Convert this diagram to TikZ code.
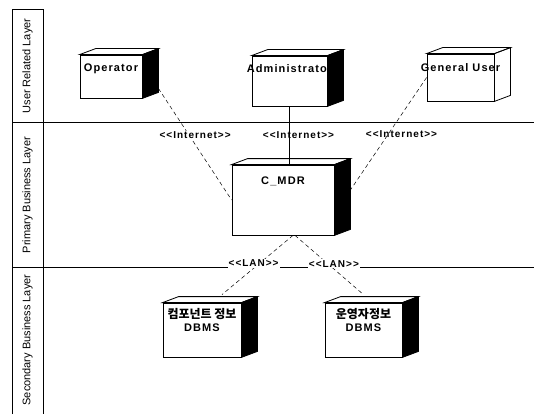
\documentclass[tikz,border=0pt]{standalone}
\usepackage{fontspec}
\setmainfont{Liberation Sans}
\newfontfamily\tagfont[LetterSpace=10]{Liberation Sans}
\newfontfamily\korfont{Noto Sans CJK KR}
\usetikzlibrary{positioning}
\tikzset{
    layerline/.style={line width=0.8pt},
    layertext/.style={rotate=90,font=\fontsize{11}{12}\selectfont,inner sep=0pt},
    device/.style={draw,line width=0.8pt,fill=white,inner sep=0pt},
    devtext/.style={anchor=north,inner sep=0pt,align=center,
        font=\tagfont\bfseries\fontsize{11}{13}\selectfont},
    cubeline/.style={line width=0.8pt},
    link/.style={line width=0.5pt,dash pattern=on 4pt off 3pt},
    stereo/.style={inner sep=1pt,font=\tagfont\bfseries\fontsize{10}{11}\selectfont}
}
% top and side faces of a device box
\newcommand{\devcube}[2]{
    \draw[cubeline,fill=white] (#1.north west) -- ++(16pt,6pt)
        -- ([shift={(16pt,6pt)}]#1.north east) -- (#1.north east) -- cycle;
    \draw[cubeline,#2] (#1.north east) -- ++(16pt,6pt)
        -- ([shift={(16pt,6pt)}]#1.south east) -- (#1.south east) -- cycle;
}
\begin{document}
\begin{tikzpicture}[x=1pt,y=-1pt]
    \useasboundingbox (0,0) rectangle (534,414);
    % layers
    \draw[layerline] (12,414) -- (12,9) -- (43,9) -- (43,414);
    \draw[layerline] (12,122) -- (534,122);
    \draw[layerline] (12,267) -- (534,267);
    \node[layertext] (ulayer) at (27.5,66) {User Related Layer};
    \node[layertext] (player) at (27.5,195) {Primary Business Layer};
    \node[layertext] (slayer) at (27.5,340) {Secondary Business Layer};
    % devices
    \node[device,minimum width=62pt,minimum height=43pt,
        label={[devtext,yshift=-9pt]north:Operator}] (oper) at (111,76.5) {};
    \devcube{oper}{fill=black}
    \node[device,minimum width=75pt,minimum height=50pt,
        label={[devtext,yshift=-9pt]north:Administrator}] (admin) at (289.5,81) {};
    \devcube{admin}{fill=black}
    \node[device,minimum width=67pt,minimum height=47pt,
        label={[devtext,yshift=-10pt]north:General User}] (genuser) at (460.5,77.5) {};
    \devcube{genuser}{}
    \draw[cubeline] (genuser.north east) -- (genuser.south east);
    \node[device,minimum width=102pt,minimum height=70pt,
        label={[devtext,yshift=-12pt]north:C\_MDR}] (cmdr) at (283,200) {};
    \devcube{cmdr}{fill=black}
    \node[device,minimum width=78pt,minimum height=54pt,
        label={[devtext,yshift=-6pt]north:{\korfont\bfseries\fontsize{12}{16}\selectfont 컴포넌트 정보}\\DBMS}] (compdb) at (202,330) {};
    \devcube{compdb}{fill=black}
    \node[device,minimum width=77pt,minimum height=54pt,
        label={[devtext,yshift=-6pt]north:{\korfont\bfseries\fontsize{12}{16}\selectfont 운영자정보}\\DBMS}] (operdb) at (363.5,330) {};
    \devcube{operdb}{fill=black}
    % connections
    \draw[link] ([shift={(16pt,10pt)}]oper.south east) -- (cmdr.west)
        node[stereo,pos=0.42,xshift=6pt,fill=white] (inet1) {<<Internet>>};
    \draw[line width=0.5pt] (admin.south) -- (admin.south |- cmdr.north)
        node[stereo,midway,xshift=9pt] (inet2) {<<Internet>>};
    \draw[link] (genuser.west) -- ([shift={(16pt,10pt)}]cmdr.east)
        node[stereo,pos=0.5,xshift=13pt] (inet3) {<<Internet>>};
    \draw[link] ([xshift=10pt]cmdr.south) -- ([shift={(20pt,8pt)}]compdb.north)
        node[stereo,pos=0.47,xshift=-6pt,fill=white] (lan1) {<<LAN>>};
    \draw[link] ([xshift=12pt]cmdr.south) -- ([yshift=8pt]operdb.north)
        node[stereo,pos=0.48,xshift=6pt,fill=white] (lan2) {<<LAN>>};
\end{tikzpicture}
\end{document}
